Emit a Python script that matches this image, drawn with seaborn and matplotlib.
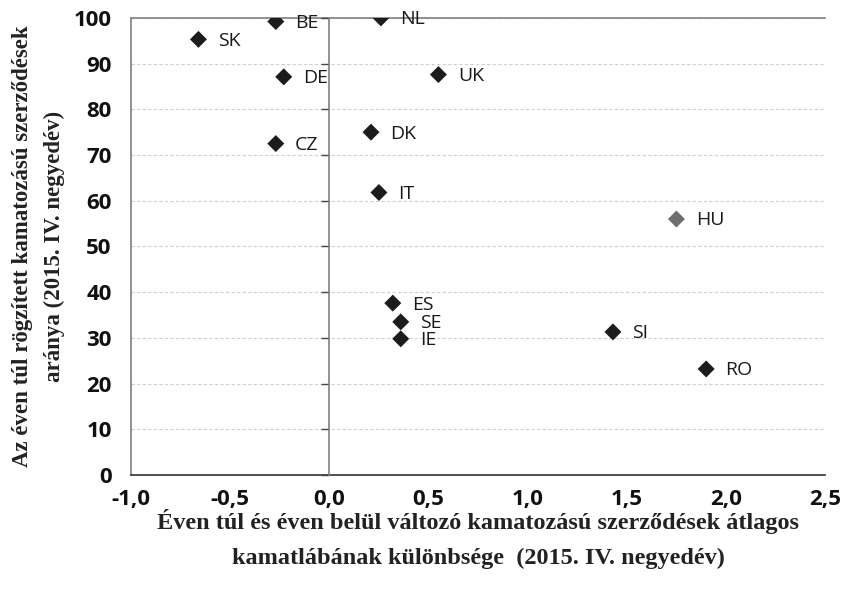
import numpy as np
import pandas as pd
import matplotlib
matplotlib.use("Agg")
import matplotlib.pyplot as plt
import seaborn as sns

countries = ["SK", "BE", "DE", "CZ", "NL", "UK", "DK", "IT", "HU", "ES", "SE", "IE", "SI", "RO"]
rate_diff = [-0.66, -0.27, -0.23, -0.27, 0.26, 0.55, 0.21, 0.25, 1.75, 0.32, 0.36, 0.36, 1.43, 1.90]
fixed_share = [95.3, 99.2, 87.1, 72.5, 100.0, 87.6, 75.0, 61.8, 56.0, 37.6, 33.5, 29.8, 31.3, 23.2]
highlight = ["HU"]

x_ticks = [-1.0, -0.5, 0.0, 0.5, 1.0, 1.5, 2.0, 2.5]
y_ticks = list(range(0, 101, 10))

df = pd.DataFrame({"country": countries, "x": rate_diff, "y": fixed_share})
df["group"] = np.where(df["country"].isin(highlight), "hu", "other")

sns.set_style("white", {"axes.spines.right": False})
plt.rcParams["font.family"] = ["Open Sans", "DejaVu Sans"]

fig = plt.figure(figsize=(8.42, 5.96), dpi=100)
ax_rect = [0.1556, 0.203, 0.8244, 0.767]
ax = fig.add_axes(ax_rect)
ax.patch.set_edgecolor("none")

sns.scatterplot(data=df, x="x", y="y", hue="group", marker="D", s=75,
                palette={"other": "#1c1c1c", "hu": "#6e6e6e"}, edgecolor="none",
                legend=False, ax=ax, zorder=3)

for _, r in df.iterrows():
    ax.annotate(r["country"], (r["x"], r["y"]), xytext=(14, -1), textcoords="offset points",
                va="center", ha="left", fontsize=14, color="#1a1a1a")

ax.set_xlim(x_ticks[0], x_ticks[-1])
ax.set_ylim(0, 100)
ax.set_xticks(x_ticks)
ax.set_xticklabels([f"{t:.1f}".replace(".", ",") for t in x_ticks])
ax.set_yticks(y_ticks)

for lab in ax.get_xticklabels() + ax.get_yticklabels():
    lab.set_fontsize(16)
    lab.set_fontweight("bold")
    lab.set_color("#111111")

ax.tick_params(axis="x", direction="out", length=7, width=1.2, color="#222222", pad=3)
ax.tick_params(axis="y", length=0, pad=14)
ax.yaxis.grid(True, linestyle=(0, (3, 2)), color="#d0d0d0", linewidth=0.8)
ax.xaxis.grid(False)

for side in ["left", "top", "bottom"]:
    ax.spines[side].set_color("#808080")
    ax.spines[side].set_linewidth(1.2)
ax.spines["bottom"].set_color("#333333")
ax.spines["right"].set_visible(False)
ax.spines["right"].set_color("none")
ax.spines["right"].set_linewidth(0)

# y axis crossing at x = 0: a zero-width overlay axes sharing y
frac0 = (0 - x_ticks[0]) / (x_ticks[-1] - x_ticks[0])
ax0 = fig.add_axes([ax_rect[0] + frac0 * ax_rect[2], ax_rect[1], 1e-6, ax_rect[3]], sharey=ax)
ax0.patch.set_visible(False)
ax0.set_xticks([])
for side in ["right", "top", "bottom"]:
    ax0.spines[side].set_visible(False)
ax0.spines["left"].set_color("#808080")
ax0.spines["left"].set_linewidth(1.2)
ax0.tick_params(axis="y", left=True, direction="out", length=6, width=1, color="#444444", labelleft=False)

serif = ["Liberation Serif", "DejaVu Serif"]
ax.set_xlabel("Éven túl és éven belül változó kamatozású szerződések átlagos\nkamatlábának különbsége  (2015. IV. negyedév)",
              family=serif, fontweight="bold", fontsize=17.5, linespacing=1.9, labelpad=-1, color="#222222")
ax.set_ylabel("Az éven túl rögzített kamatozású szerződések\naránya (2015. IV. negyedév)",
              family=serif, fontweight="bold", fontsize=16.5, linespacing=1.7, labelpad=6, color="#222222")

fig.savefig("out.png", dpi=100)
